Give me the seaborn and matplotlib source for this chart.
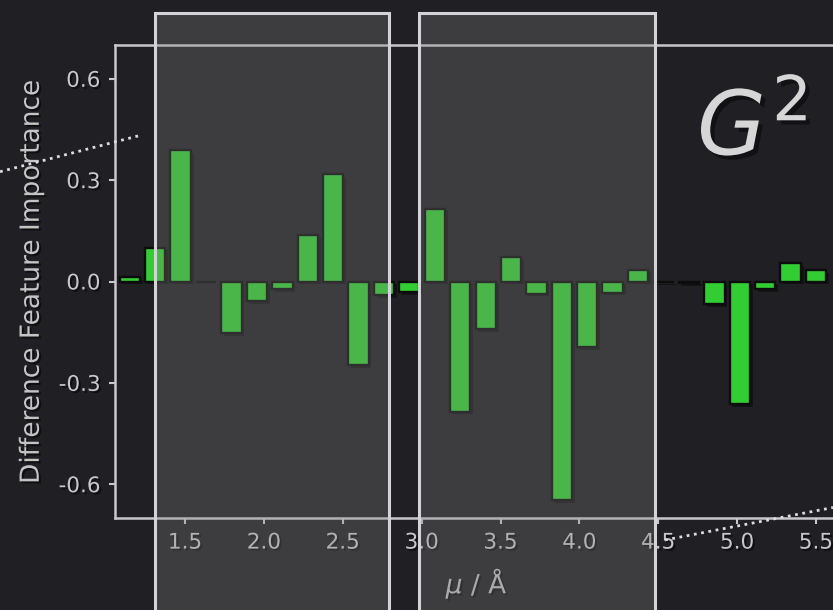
import matplotlib
matplotlib.use("Agg")
import matplotlib.pyplot as plt
import matplotlib.patheffects as pe
from matplotlib.patches import Rectangle
from matplotlib.lines import Line2D
from matplotlib.ticker import FormatStrFormatter
import pandas as pd
import seaborn as sns

# Bin centres (Å) and difference feature importance per bin
mu = [1.150, 1.311, 1.472, 1.633, 1.794, 1.956, 2.117, 2.278, 2.439, 2.600,
      2.761, 2.922, 3.083, 3.244, 3.406, 3.567, 3.728, 3.889, 4.050, 4.211,
      4.372, 4.533, 4.694, 4.856, 5.017, 5.178, 5.339, 5.500]
importance = [0.012, 0.100, 0.390, 0.000, -0.152, -0.058, -0.022, 0.137, 0.318, -0.248,
              -0.040, -0.031, 0.216, -0.385, -0.142, 0.072, -0.036, -0.647, -0.195, -0.033,
              0.035, -0.002, -0.004, -0.066, -0.364, -0.022, 0.055, 0.033]

x_ticks = [1.5, 2.0, 2.5, 3.0, 3.5, 4.0, 4.5, 5.0, 5.5]
y_ticks = [-0.6, -0.3, 0.0, 0.3, 0.6]
windows = [(1.31, 2.795), (2.985, 4.48)]

BG = "#202024"
FG = "#c8c8cc"

sns.set_theme(style="dark")
plt.rcParams["font.family"] = ["DejaVu Sans"]
plt.rcParams["axes.unicode_minus"] = False
plt.rcParams["mathtext.fontset"] = "dejavusans"

fig = plt.figure(figsize=(8.33, 6.10), dpi=100, facecolor=BG)
ax = fig.add_axes([115 / 833, 1 - 518 / 610, 724 / 833, 473 / 610])
ax.set_facecolor(BG)

df = pd.DataFrame({"mu": mu, "importance": importance})
sns.barplot(data=df, x="mu", y="importance", native_scale=True, color="limegreen",
            saturation=1, edgecolor="#0c0c0c", linewidth=1.7, errorbar=None, ax=ax)

bar_shadow = [pe.SimplePatchShadow(offset=(2, -2), shadow_rgbFace="black", alpha=0.4),
              pe.Normal()]
for p in ax.patches:
    p.set_path_effects(bar_shadow)

ax.set_xlim(1.056, 5.646)
ax.set_ylim(-0.7, 0.7)
ax.set_xticks(x_ticks)
ax.set_yticks(y_ticks)
ax.xaxis.set_major_formatter(FormatStrFormatter("%.1f"))
ax.yaxis.set_major_formatter(FormatStrFormatter("%.1f"))
ax.grid(False)

for s in ax.spines.values():
    s.set_visible(True)
    s.set_color(FG)
    s.set_linewidth(1.8)

text_shadow = [pe.withSimplePatchShadow(offset=(1.5, -1.5), shadow_rgbFace="black", alpha=0.5)]
ax.tick_params(direction="out", length=4.5, width=1.5, color=FG, labelcolor=FG,
               labelsize=15.5, pad=6, bottom=True, left=True)
for lbl in ax.get_xticklabels() + ax.get_yticklabels():
    lbl.set_path_effects(text_shadow)

ax.set_ylabel("Difference Feature Importance", fontsize=19, color="#c4c4c4",
              path_effects=text_shadow)
ax.set_xlabel(r"$\mu$ / Å", fontsize=19, color="#bcbcbc", path_effects=text_shadow)
ax.yaxis.set_label_coords(-0.097, 0.5)
ax.xaxis.set_label_coords(0.5, -0.1)

# Highlighted distance windows
for x0, x1 in windows:
    ax.add_patch(Rectangle((x0, -1.5), x1 - x0, 0.795 + 1.5, facecolor="#828282",
                           alpha=0.3, edgecolor="none", clip_on=False, zorder=10))
    ax.add_patch(Rectangle((x0, -1.5), x1 - x0, 0.795 + 1.5, fill=False,
                           edgecolor="#d4d4d8", linewidth=2.2, clip_on=False, zorder=11))

fig.text(697 / 833, 1 - 155 / 610, r"$G^2$", fontsize=64, color="#d6d6d6",
         ha="left", va="baseline",
         path_effects=[pe.withSimplePatchShadow(offset=(3, -3), shadow_rgbFace="black",
                                                alpha=0.45)])

# Connector lines
fig.add_artist(Line2D([0, 141.7 / 833], [1 - 171.7 / 610, 1 - 135 / 610],
                      transform=fig.transFigure, color="#dcdcdc", lw=2.0, ls=":", zorder=20))
fig.add_artist(Line2D([665 / 833, 1.0], [1 - 540 / 610, 1 - 507.5 / 610],
                      transform=fig.transFigure, color="#dcdcdc", lw=2.0, ls=":", zorder=20))

fig.savefig("out.png", dpi=100, facecolor=BG)
